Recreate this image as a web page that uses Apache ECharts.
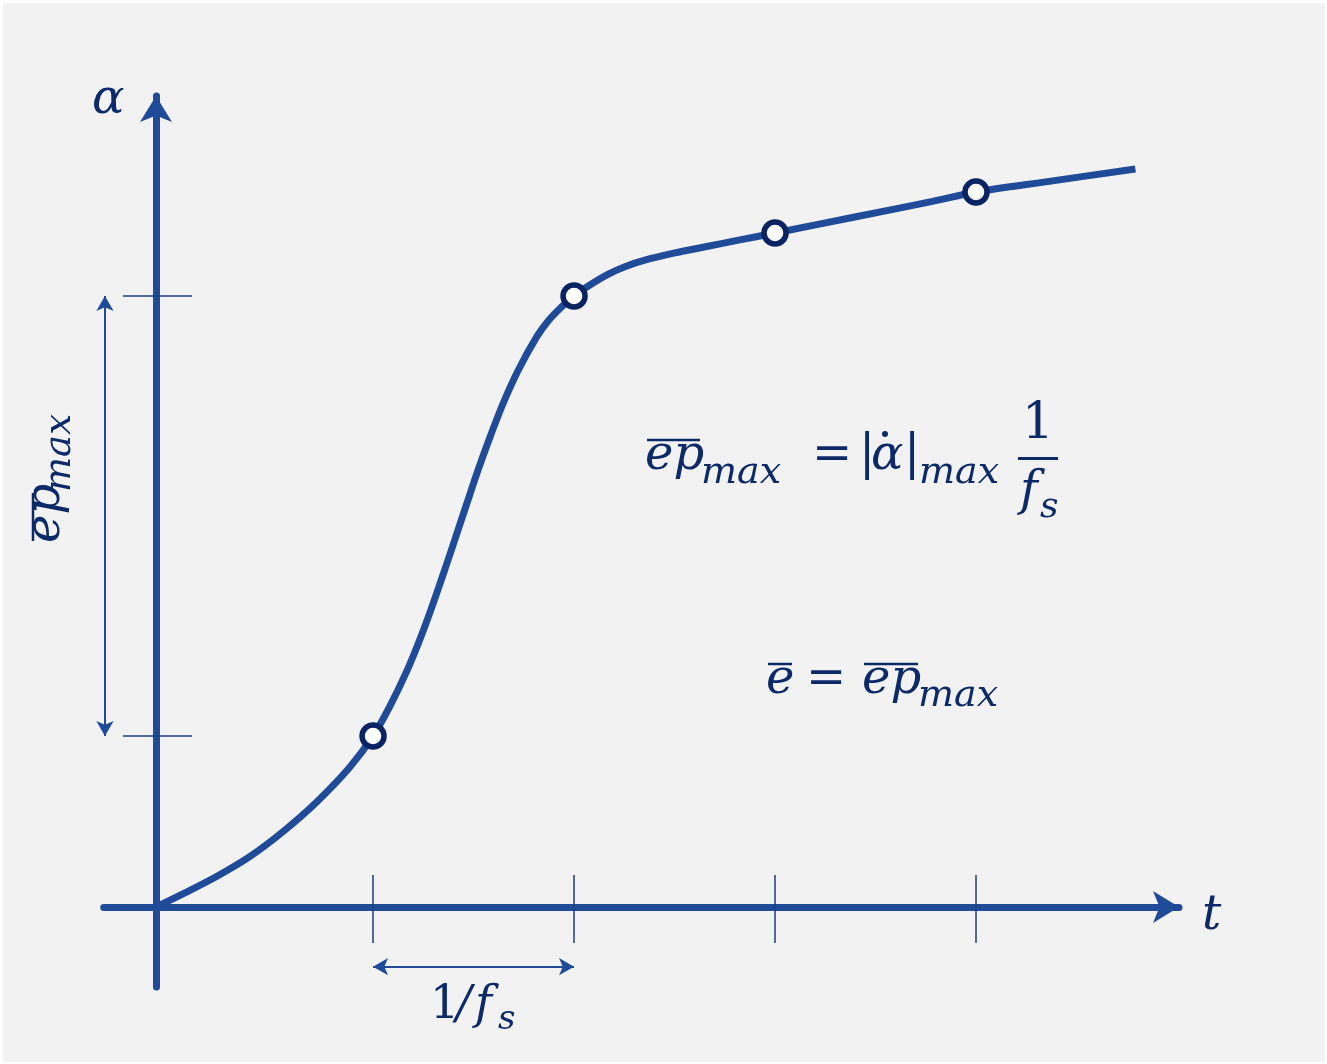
<!DOCTYPE html>
<html>
<head>
<meta charset="utf-8">
<style>
html, body { margin: 0; padding: 0; background: #fff; }
#chart { width: 1327px; height: 1064px; }
</style>
<script src="https://cdn.jsdelivr.net/npm/echarts@6/dist/echarts.min.js"></script>
</head>
<body>
<div id="chart"></div>
<script>
// curve alpha(t), t in sample periods (1/fs), alpha in arbitrary units
const curveT = [0, 0.149, 0.299, 0.468, 0.632, 0.801, 0.965, 1.08, 1.164, 1.254, 1.322, 1.38,
  1.438, 1.488, 1.546, 1.6, 1.662, 1.728, 1.803, 1.894, 1.952, 2.015, 2.08, 2.159, 2.246,
  2.333, 2.436, 2.582, 2.721, 2.905, 3.08, 3.483, 3.864, 4.08, 4.435, 4.873];
const curveAlpha = [0, 0.146, 0.302, 0.506, 0.754, 1.053, 1.40, 1.71, 2.008, 2.386, 2.722, 3.041,
  3.38, 3.68, 4.031, 4.356, 4.70, 5.04, 5.37, 5.701, 5.863, 5.996, 6.11, 6.22, 6.324,
  6.403, 6.471, 6.541, 6.597, 6.671, 6.74, 6.903, 7.056, 7.15, 7.254, 7.38];

// sampling instants and sampled values
const sampleT = [1.08, 2.08, 3.08, 4.08];
const sampleAlpha = [1.71, 6.11, 6.74, 7.15];

const BLUE = '#1f4b98';
const INK = '#0c2a68';
const RING = '#0a2362';
const FONT = '"DejaVu Serif"';
const MID = 0.346; // canvas 'middle' above the alphabetic baseline, in em

function mt(text, x, base, size, italic) {
  return {
    type: 'text', x: x, y: base - MID * size, silent: true,
    style: {
      text: text, fill: INK, fontSize: size, fontFamily: FONT,
      fontStyle: italic === false ? 'normal' : 'italic',
      align: 'left', verticalAlign: 'middle', textAlign: 'left', textVerticalAlign: 'middle'
    }
  };
}
function bar(x1, y1, x2, y2, w) {
  return { type: 'line', silent: true, shape: { x1: x1, y1: y1, x2: x2, y2: y2 },
    style: { stroke: INK, lineWidth: w || 2.5 } };
}

// tick marks and dimension arrows, in data coordinates
const tickLines = sampleT.map(t => [
  { coord: [t, 0.32], symbol: 'none' }, { coord: [t, -0.36], symbol: 'none' }
]).concat([sampleAlpha[0], sampleAlpha[1]].map(a => [
  { coord: [-0.164, a], symbol: 'none' }, { coord: [0.179, a], symbol: 'none' }
]));
const arrowLines = [
  [{ coord: [-0.254, sampleAlpha[1]], symbol: 'arrow' }, { coord: [-0.254, sampleAlpha[0]], symbol: 'arrow' }],
  [{ coord: [sampleT[0], -0.597], symbol: 'arrow' }, { coord: [sampleT[1], -0.597], symbol: 'arrow' }]
];

const chart = echarts.init(document.getElementById('chart'), null, { renderer: 'canvas' });

const axisCommon = {
  type: 'value',
  axisLine: { show: true, onZero: true, symbol: ['none', 'arrow'], symbolSize: [24, 26],
    lineStyle: { color: BLUE, width: 7 } },
  axisTick: { show: false }, axisLabel: { show: false }, splitLine: { show: false }
};

chart.setOption({
  animation: false,
  backgroundColor: '#ffffff',
  grid: { left: 103.74, right: 148, top: 96, bottom: 77 },
  xAxis: Object.assign({}, axisCommon, { min: -0.26, max: 5.09 }),
  yAxis: Object.assign({}, axisCommon, { min: -0.8, max: 8.11 }),
  series: [
    {
      type: 'line', name: 'ticks', data: [], silent: true, z: 1,
      markLine: {
        silent: true, animation: false, symbol: 'none', label: { show: false },
        lineStyle: { color: '#1c3c7c', width: 1.5, type: 'solid' },
        emphasis: { disabled: true },
        data: tickLines
      }
    },
    {
      type: 'line', name: 'arrows', data: [], silent: true, z: 1,
      markLine: {
        silent: true, animation: false, symbolSize: [13, 15], label: { show: false },
        lineStyle: { color: BLUE, width: 2, type: 'solid' },
        emphasis: { disabled: true },
        data: arrowLines
      }
    },
    {
      type: 'line', name: 'alpha', z: 3, smooth: 0.3, showSymbol: false, silent: true,
      lineStyle: { color: BLUE, width: 7 },
      data: curveT.map((t, i) => [t, curveAlpha[i]])
    },
    {
      type: 'scatter', name: 'samples', z: 4, silent: true,
      symbol: 'circle', symbolSize: 22,
      itemStyle: { color: '#ffffff', borderColor: RING, borderWidth: 5.5, opacity: 1 },
      data: sampleT.map((t, i) => [t, sampleAlpha[i]])
    }
  ],
  graphic: [
    { type: 'rect', z: -10, silent: true, shape: { x: 3, y: 3, width: 1322, height: 1059 },
      style: { fill: '#f2f2f2' } },
    mt('\u03b1', 92, 117, 48),
    mt('t', 1202, 933, 48),
    // rotated label on the left
    {
      type: 'group', x: 63, y: 543, rotation: Math.PI / 2,
      children: [
        mt('ep', 0, 0, 48),
        bar(2, -30, 50, -30),
        mt('max', 51, 10, 37)
      ]
    },
    // ep_max = |alpha_dot|_max 1/fs
    mt('ep', 645, 473, 48),
    bar(647, 440, 700, 440),
    mt('max', 701, 486, 38),
    mt('=', 812, 473, 48, false),
    mt('|', 859, 473, 48, false),
    mt('\u03b1', 871, 473, 48),
    { type: 'circle', silent: true, shape: { cx: 885, cy: 434, r: 3 }, style: { fill: INK } },
    mt('|', 904, 473, 48, false),
    mt('max', 919, 486, 38),
    mt('1', 1022, 442, 50, false),
    bar(1018, 458.5, 1058, 458.5, 3),
    mt('f', 1020, 509, 48),
    mt('s', 1040, 520, 36),
    // e_bar = ep_max
    mt('e', 766, 697, 48),
    bar(768, 664, 792, 664),
    mt('=', 806, 697, 48, false),
    mt('ep', 862, 697, 48),
    bar(864, 664, 918, 664),
    mt('max', 918, 709, 38),
    // 1/fs under the axis
    mt('1', 430, 1022, 46, false),
    mt('/', 456, 1022, 46),
    mt('f', 475, 1022, 46),
    mt('s', 498, 1032, 34)
  ]
});
</script>
</body>
</html>
